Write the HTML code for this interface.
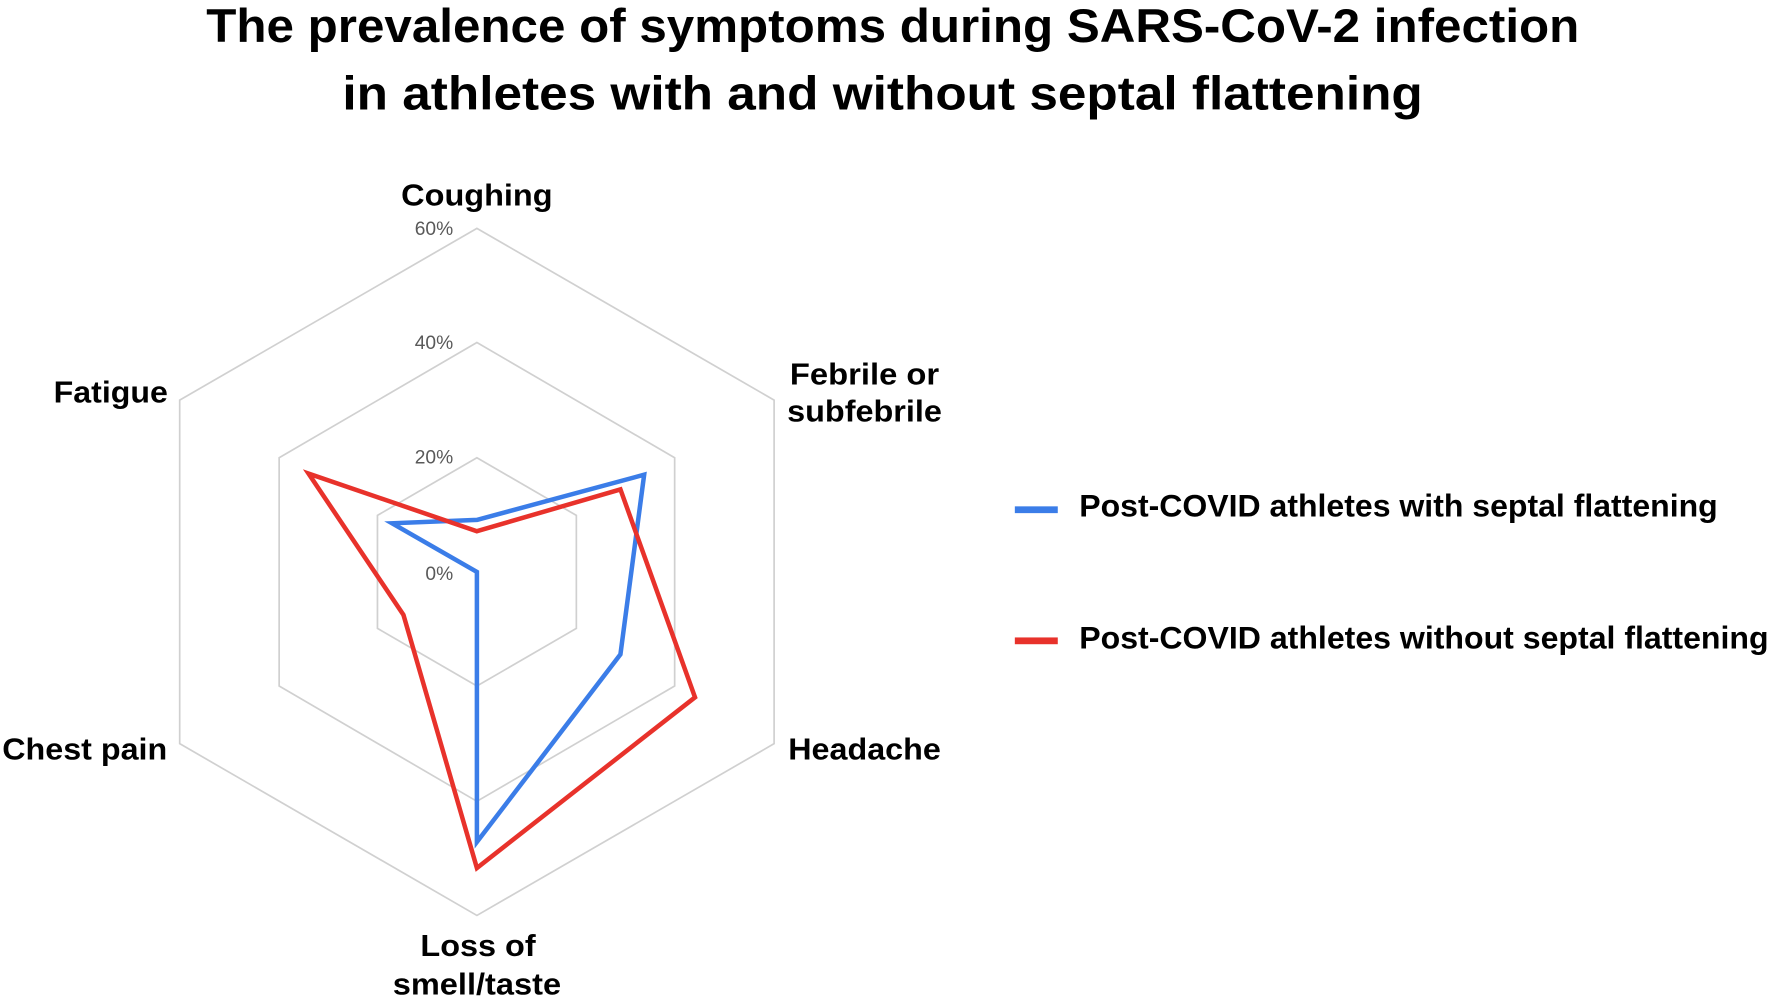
<!DOCTYPE html>
<html><head><style>html,body{margin:0;padding:0;background:#fff;overflow:hidden}svg{display:block}</style></head>
<body>
<svg width="1772" height="998" viewBox="0 0 1568 883" xmlns="http://www.w3.org/2000/svg" font-family="Liberation Sans, sans-serif">
<rect width="1568" height="883" fill="#fff"/>
<g font-weight="bold" font-size="42" text-anchor="middle" fill="#000">
<text x="790" y="37" textLength="1215" lengthAdjust="spacingAndGlyphs">The prevalence of symptoms during SARS-CoV-2 infection</text>
<text x="781" y="97" textLength="956" lengthAdjust="spacingAndGlyphs">in athletes with and without septal flattening</text>
</g>
<g fill="none" stroke="#d0d0d0" stroke-width="1.5">
<polygon points="422,202 685,354 685,658 422,810 159,658 159,354"/>
<polygon points="422,303 597,405 597,607 422,709 247,607 247,405"/>
<polygon points="422,405 510,456 510,556 422,607 334,556 334,456"/>
</g>
<g font-size="17" fill="#595959" text-anchor="end">
<text x="401" y="208">60%</text>
<text x="401" y="309">40%</text>
<text x="401" y="410">20%</text>
<text x="401" y="513">0%</text>
</g>
<polygon points="422,460 570,420 549,579 422,745 422,506 347,463" fill="none" stroke="#3b7de8" stroke-width="4" stroke-linejoin="miter"/>
<polygon points="422,470 549,433 615,617 422,768 357,544 273,419" fill="none" stroke="#e8322b" stroke-width="4" stroke-linejoin="miter"/>
<g font-size="27" fill="#000" font-weight="bold" text-anchor="middle">
<text x="422" y="182" textLength="134" lengthAdjust="spacingAndGlyphs">Coughing</text>
<text x="98" y="356" textLength="101" lengthAdjust="spacingAndGlyphs">Fatigue</text>
<text x="765" y="340" textLength="132" lengthAdjust="spacingAndGlyphs">Febrile or</text>
<text x="765" y="373" textLength="137" lengthAdjust="spacingAndGlyphs">subfebrile</text>
<text x="75" y="672" textLength="146" lengthAdjust="spacingAndGlyphs">Chest pain</text>
<text x="765" y="672" textLength="135" lengthAdjust="spacingAndGlyphs">Headache</text>
<text x="423" y="846" textLength="102" lengthAdjust="spacingAndGlyphs">Loss of</text>
<text x="422" y="880" textLength="149" lengthAdjust="spacingAndGlyphs">smell/taste</text>
</g>
<rect x="898" y="448" width="38" height="6" fill="#3b7de8"/>
<rect x="898" y="564" width="38" height="6" fill="#e8322b"/>
<g font-size="28" font-weight="bold" fill="#000">
<text x="955" y="457" textLength="565" lengthAdjust="spacingAndGlyphs">Post-COVID athletes with septal flattening</text>
<text x="955" y="574" textLength="610" lengthAdjust="spacingAndGlyphs">Post-COVID athletes without septal flattening</text>
</g>
</svg>
</body></html>
